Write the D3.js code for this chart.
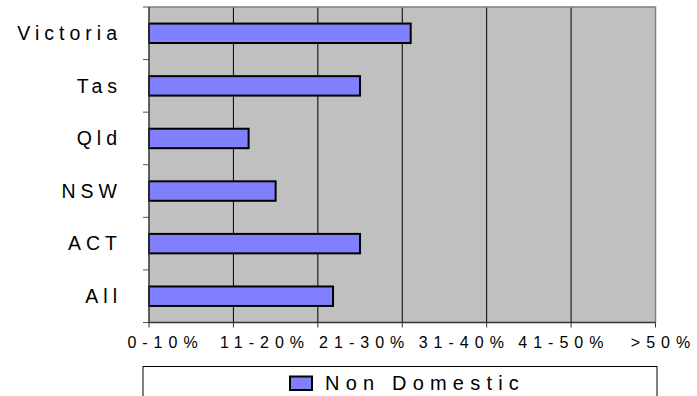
<!DOCTYPE html>
<html><head><meta charset="utf-8">
<script src="https://cdn.jsdelivr.net/npm/d3@7"></script>
<style>body{margin:0;background:#fff}svg{display:block;font-family:Arial,"Liberation Sans",sans-serif}</style>
</head><body><svg id="c" width="697" height="396"></svg>
<script>
const categories = ["Victoria", "Tas", "Qld", "NSW", "ACT", "All"];
const values = [3.1, 2.5, 1.18, 1.5, 2.5, 2.18];
const tickLabels = ["0-10%", "11-20%", "21-30%", "31-40%", "41-50%", ">50%"];
const seriesName = "Non Domestic";

const svg = d3.select("#c");
const L = 149, R = 655.5, T = 7, B = 322.5;

const x = d3.scaleLinear().domain([0, 6]).range([L, R]);
const y = d3.scaleBand().domain(categories).range([T, B]).padding(0);
const labelX = d3.scalePoint().domain(tickLabels).range([165, 663]);

// plot background
svg.append("rect").attr("x", L).attr("y", T).attr("width", R - L).attr("height", B - T)
  .attr("fill", "#C0C0C0");

// gridlines
svg.append("g").selectAll("line").data(d3.range(1, 6)).join("line")
  .attr("x1", d => x(d)).attr("x2", d => x(d)).attr("y1", T).attr("y2", B)
  .attr("stroke", "#000").attr("stroke-width", 1);

// top and right border
svg.append("path")
  .attr("d", `M${L},${T}H${R}V${B}`)
  .attr("fill", "none").attr("stroke", "#808080").attr("stroke-width", 1.5);

// bars
const bw = y.bandwidth();
svg.append("g").selectAll("rect").data(categories).join("rect")
  .attr("x", x(0))
  .attr("y", d => y(d) + bw * 0.315)
  .attr("width", (d, i) => x(values[i]) - x(0))
  .attr("height", bw * 0.37)
  .attr("fill", "#8080FF").attr("stroke", "#000").attr("stroke-width", 2);

// left axis with ticks at band boundaries
const yBounds = categories.map(c => y(c)).concat([B]);
svg.append("g").selectAll("line").data(yBounds).join("line")
  .attr("x1", L - 6).attr("x2", L).attr("y1", d => d).attr("y2", d => d)
  .attr("stroke", "#555").attr("stroke-width", 1);
svg.append("line").attr("x1", L).attr("x2", L).attr("y1", T).attr("y2", B)
  .attr("stroke", "#333").attr("stroke-width", 1.5);

// bottom axis
svg.append("line").attr("x1", L).attr("x2", R).attr("y1", B).attr("y2", B)
  .attr("stroke", "#333").attr("stroke-width", 1.5);
svg.append("g").selectAll("line").data(d3.range(0, 7)).join("line")
  .attr("x1", d => x(d)).attr("x2", d => x(d)).attr("y1", B).attr("y2", B + 5)
  .attr("stroke", "#333").attr("stroke-width", 1);

// category labels
svg.append("g").selectAll("text").data(categories).join("text")
  .attr("x", 122)
  .attr("y", d => y(d) + bw / 2)
  .attr("dy", "0.34em")
  .attr("text-anchor", "end")
  .attr("font-size", 19.5)
  .attr("letter-spacing", 5)
  .attr("fill", "#000")
  .text(d => d);

// x labels through an axis
const xa = svg.append("g").attr("transform", `translate(0,${B})`)
  .call(d3.axisBottom(labelX).tickSize(0).tickPadding(0));
xa.select(".domain").remove();
xa.selectAll("text")
  .attr("y", 25.5).attr("dy", 0)
  .attr("font-size", 16)
  .attr("font-family", "Arial, 'Liberation Sans', sans-serif")
  .attr("letter-spacing", 6)
  .attr("fill", "#000");

// legend
const lg = svg.append("g");
lg.append("rect").attr("x", 143).attr("y", 366.5).attr("width", 514).attr("height", 40)
  .attr("fill", "#fff").attr("stroke", "#000").attr("stroke-width", 1);
lg.append("rect").attr("x", 290).attr("y", 376.5).attr("width", 22).attr("height", 13.5)
  .attr("fill", "#8080FF").attr("stroke", "#000").attr("stroke-width", 2);
lg.append("text").attr("x", 325).attr("y", 389.5)
  .attr("font-size", 20).attr("letter-spacing", 6.2).attr("fill", "#000")
  .text(seriesName);
</script>
</body></html>
